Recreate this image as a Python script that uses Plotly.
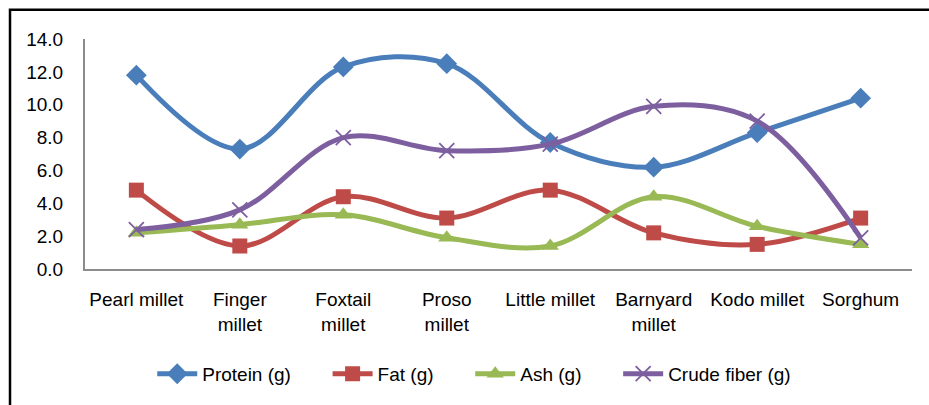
import plotly.graph_objects as go

categories = ["Pearl millet", "Finger<br>millet", "Foxtail<br>millet", "Proso<br>millet",
              "Little millet", "Barnyard<br>millet", "Kodo millet", "Sorghum"]
protein = [11.8, 7.3, 12.3, 12.5, 7.7, 6.2, 8.3, 10.4]
fat = [4.8, 1.4, 4.4, 3.1, 4.8, 2.2, 1.5, 3.1]
ash = [2.2, 2.7, 3.3, 1.9, 1.4, 4.4, 2.6, 1.5]
crude_fiber = [2.4, 3.6, 8.0, 7.2, 7.6, 9.9, 9.0, 1.9]

series = [
    ("Protein (g)", protein, "#4A7EBB", dict(symbol="diamond", size=16)),
    ("Fat (g)", fat, "#BE4B48", dict(symbol="square", size=15)),
    ("Ash (g)", ash, "#98B954", dict(symbol="triangle-up", size=15)),
    ("Crude fiber (g)", crude_fiber, "#7D5FA0", dict(symbol="x-thin-open", size=15, line=dict(width=1.8))),
]

fig = go.Figure()
for name, vals, color, mk in series:
    marker = dict(color=color, **mk)
    if "line" in marker:
        marker["line"]["color"] = color
    fig.add_trace(go.Scatter(
        x=categories, y=vals, name=name + "      ", mode="lines+markers",
        line=dict(color=color, width=5, shape="spline", smoothing=1),
        marker=marker,
    ))

font = dict(family="Liberation Sans, Arial, sans-serif", size=19, color="#000000")
fig.update_layout(
    width=929, height=405,
    margin=dict(l=85, r=17, t=39, b=134),
    paper_bgcolor="white", plot_bgcolor="white",
    font=font,
    showlegend=True,
    legend=dict(orientation="h", x=0.49, xanchor="center", y=-0.456, yanchor="middle",
                font=font, itemwidth=40, tracegroupgap=0),
    xaxis=dict(showline=True, linecolor="#8C8C8C", linewidth=2, showgrid=False,
               ticks="", tickfont=font, ticklabelstandoff=12, zeroline=False),
    yaxis=dict(range=[0, 14], dtick=2, tickformat=".1f", showline=True, linecolor="#8C8C8C",
               linewidth=2, showgrid=False, ticks="", tickfont=font, ticklabelstandoff=16,
               zeroline=False),
    shapes=[dict(type="rect", xref="paper", yref="paper",
                 x0=(10 - 85) / 827, x1=1.1, y0=-0.8, y1=(271 - 9.5) / 232,
                 line=dict(color="black", width=2.5), fillcolor="rgba(0,0,0,0)", layer="below")],
)

fig.write_html("out.html", config={"displayModeBar": False},
               post_script="document.body.style.margin='0';")
